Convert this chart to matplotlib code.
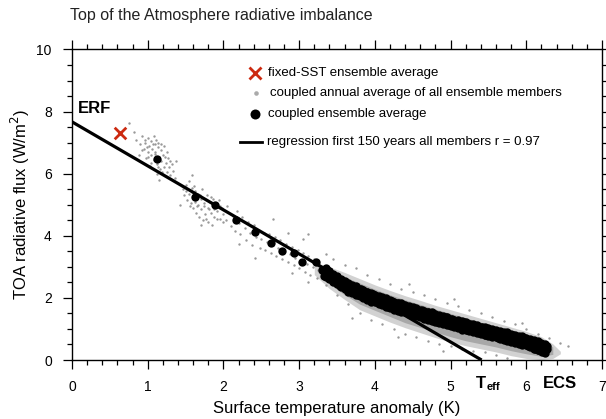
import matplotlib
matplotlib.use("Agg")
import matplotlib.pyplot as plt
from matplotlib.ticker import MultipleLocator

plt.rcParams['font.family'] = ['Liberation Sans', 'DejaVu Sans']

# regression line: intercept (ERF) and zero crossing (T_eff)
erf = 7.67
t_eff = 5.41

# fixed-SST ensemble average
sst_x = [0.634]
sst_y = [7.30]

# coupled ensemble average (black dots)
ens_x = [1.12, 1.63, 1.89, 2.17, 2.42, 2.63, 2.78, 2.93, 3.04, 3.22, 3.30,
         3.36, 3.42, 3.47, 3.52, 3.56, 3.60, 3.64, 3.68, 3.72, 3.76, 3.80,
         3.84, 3.88, 3.92, 3.96, 4.00, 4.04, 4.08, 4.12, 4.16, 4.20, 4.24,
         4.28, 4.32, 4.36, 4.40, 4.44, 4.48, 4.52, 4.56, 4.60, 4.64, 4.68,
         4.72, 4.76, 4.80, 4.84, 4.88, 4.92, 4.96, 5.00, 5.04, 5.08, 5.12,
         5.16, 5.20, 5.24, 5.28, 5.32, 5.36, 5.40, 5.44, 5.48, 5.52, 5.56,
         5.60, 5.64, 5.68, 5.72, 5.76, 5.80, 5.84, 5.88, 5.92, 5.96, 6.00,
         6.03, 6.06, 6.09, 6.12, 6.14, 6.16, 6.18, 6.20, 6.22, 6.24, 6.26,
         6.28, 6.10, 6.15, 6.19, 6.23, 6.05, 6.25,
         3.33, 3.39, 3.45, 3.50, 3.54, 3.58, 3.62, 3.66, 3.70, 3.74, 3.78,
         3.82, 3.86, 3.90, 3.94, 3.98, 4.02, 4.06, 4.10, 4.14, 4.18, 4.22,
         4.26, 4.30, 4.34, 4.38, 4.42, 4.46, 4.50, 4.54, 4.58, 4.62, 4.66,
         4.70, 4.74, 4.78, 4.82, 4.86, 4.90, 4.94, 4.98, 5.02, 5.06, 5.10,
         5.14, 5.18, 5.22, 5.26, 5.30, 5.34, 5.38, 5.42, 5.46, 5.50, 5.54,
         5.58, 5.62, 5.66, 5.70, 5.74, 5.78, 5.82, 5.86, 5.90, 5.94, 5.98,
         6.02, 6.07, 6.11, 6.17, 6.21, 6.27,
         3.35, 3.45, 3.55, 3.65, 3.75, 3.85, 3.95, 4.05, 4.15, 4.25, 4.35,
         4.45, 4.55, 4.65, 4.75, 4.85, 4.95, 5.05, 5.15, 5.25, 5.35, 5.45,
         5.55, 5.65, 5.75, 5.85, 5.95, 6.05, 6.15, 6.25,
         3.35, 3.45, 3.55, 3.65, 3.75, 3.85, 3.95, 4.05, 4.15, 4.25, 4.35,
         4.45, 4.55, 4.65, 4.75, 4.85, 4.95, 5.05, 5.15, 5.25, 5.35, 5.45,
         5.55, 5.65, 5.75, 5.85, 5.95, 6.05, 6.15, 6.25,
         3.40, 3.50, 3.60, 3.70, 3.80, 3.90, 4.00, 4.10, 4.20, 4.30, 4.40,
         4.50, 4.60, 4.70, 4.80, 4.90, 5.00, 5.10, 5.20, 5.30, 5.40, 5.50,
         5.60, 5.70, 5.80, 5.90, 6.00, 6.10, 6.20,
         3.40, 3.50, 3.60, 3.70, 3.80, 3.90, 4.00, 4.10, 4.20, 4.30, 4.40,
         4.50, 4.60, 4.70, 4.80, 4.90, 5.00, 5.10, 5.20, 5.30, 5.40, 5.50,
         5.60, 5.70, 5.80, 5.90, 6.00, 6.10, 6.20]
ens_y = [6.46, 5.25, 4.98, 4.52, 4.12, 3.78, 3.51, 3.43, 3.16, 3.16, 2.91,
         2.78, 2.72, 2.60, 2.54, 2.46, 2.42, 2.35, 2.31, 2.26, 2.23, 2.17,
         2.14, 2.10, 2.06, 2.01, 1.99, 1.94, 1.91, 1.87, 1.85, 1.80, 1.78,
         1.73, 1.72, 1.67, 1.66, 1.61, 1.60, 1.55, 1.53, 1.49, 1.47, 1.43,
         1.42, 1.38, 1.36, 1.32, 1.31, 1.27, 1.25, 1.21, 1.20, 1.16, 1.14,
         1.11, 1.09, 1.05, 1.04, 1.00, 0.99, 0.95, 0.94, 0.91, 0.89, 0.86,
         0.85, 0.81, 0.80, 0.76, 0.75, 0.71, 0.70, 0.66, 0.65, 0.61, 0.60,
         0.56, 0.55, 0.52, 0.50, 0.47, 0.45, 0.43, 0.41, 0.39, 0.37, 0.36,
         0.34, 0.40, 0.33, 0.30, 0.28, 0.48, 0.42,
         2.70, 2.86, 2.55, 2.68, 2.38, 2.55, 2.28, 2.45, 2.18, 2.36, 2.10,
         2.28, 2.02, 2.18, 1.93, 2.12, 1.86, 2.03, 1.79, 1.98, 1.72, 1.90,
         1.66, 1.84, 1.60, 1.78, 1.53, 1.72, 1.48, 1.65, 1.42, 1.60, 1.36,
         1.54, 1.30, 1.48, 1.24, 1.43, 1.19, 1.37, 1.13, 1.31, 1.08, 1.26,
         1.02, 1.21, 0.97, 1.15, 0.92, 1.10, 0.87, 1.06, 0.82, 1.00, 0.77,
         0.95, 0.72, 0.90, 0.67, 0.85, 0.62, 0.80, 0.57, 0.75, 0.52, 0.70,
         0.46, 0.62, 0.35, 0.53, 0.27, 0.45,
         2.95, 2.78, 2.60, 2.47, 2.38, 2.25, 2.16, 2.06, 1.99, 1.88, 1.82,
         1.73, 1.67, 1.58, 1.53, 1.44, 1.39, 1.30, 1.25, 1.17, 1.13, 1.05,
         1.01, 0.93, 0.89, 0.81, 0.76, 0.68, 0.62, 0.50,
         2.66, 2.50, 2.35, 2.20, 2.10, 2.00, 1.88, 1.80, 1.72, 1.62, 1.55,
         1.47, 1.41, 1.33, 1.26, 1.19, 1.12, 1.05, 0.98, 0.92, 0.86, 0.80,
         0.73, 0.68, 0.61, 0.56, 0.48, 0.41, 0.33, 0.24,
         2.86, 2.70, 2.53, 2.42, 2.30, 2.20, 2.10, 2.02, 1.92, 1.85, 1.77,
         1.70, 1.61, 1.56, 1.48, 1.42, 1.33, 1.28, 1.21, 1.15, 1.07, 1.03,
         0.97, 0.91, 0.83, 0.78, 0.72, 0.63, 0.54,
         2.60, 2.44, 2.29, 2.16, 2.06, 1.94, 1.86, 1.76, 1.68, 1.59, 1.53,
         1.44, 1.37, 1.30, 1.24, 1.16, 1.09, 1.02, 0.97, 0.89, 0.83, 0.77,
         0.73, 0.65, 0.59, 0.52, 0.48, 0.37, 0.29]

# dense part of the annual member cloud: outer and inner envelopes
cloud_x = [3.20, 3.40, 3.60, 3.80, 4.00, 4.20, 4.40, 4.60, 4.80, 5.00,
           5.20, 5.40, 5.60, 5.80, 6.00, 6.20, 6.35, 6.45]
cloud_lo = [2.75, 2.30, 1.95, 1.62, 1.42, 1.22, 1.04, 0.88, 0.72, 0.58,
            0.46, 0.36, 0.26, 0.14, 0.05, 0.01, 0.05, 0.20]
cloud_hi = [3.15, 3.00, 2.82, 2.62, 2.42, 2.24, 2.07, 1.92, 1.76, 1.62,
            1.48, 1.34, 1.20, 1.06, 0.92, 0.75, 0.52, 0.28]
core_x = [3.25, 3.40, 3.60, 3.80, 4.00, 4.20, 4.40, 4.60, 4.80, 5.00,
          5.20, 5.40, 5.60, 5.80, 6.00, 6.20, 6.35]
core_lo = [2.82, 2.45, 2.10, 1.80, 1.60, 1.40, 1.20, 1.05, 0.90, 0.75,
           0.62, 0.52, 0.42, 0.30, 0.20, 0.12, 0.18]
core_hi = [3.02, 2.88, 2.68, 2.48, 2.28, 2.10, 1.94, 1.79, 1.64, 1.50,
           1.36, 1.22, 1.08, 0.94, 0.80, 0.64, 0.42]

# scattered annual values of the members (gray dots)
mem_x = [0.85, 0.90, 0.93, 0.95, 0.97, 1.00, 1.00, 1.02, 1.04, 1.05, 1.06,
         1.08, 1.08, 1.10, 1.10, 1.12, 1.13, 1.14, 1.15, 1.16, 1.17, 1.18,
         1.20, 1.21, 1.22, 1.24, 1.25, 1.27, 1.28, 1.30, 1.32, 1.34, 1.36,
         0.98, 1.03, 0.88, 1.15, 0.75, 0.82, 1.38,
         0.92, 0.96, 1.01, 1.07, 1.09, 1.11, 1.14, 1.17, 1.19, 1.23, 1.26,
         1.29, 1.12, 1.05, 0.99,
         1.45, 1.48, 1.50, 1.52, 1.54, 1.55, 1.57, 1.58, 1.60, 1.60, 1.62,
         1.63, 1.64, 1.66, 1.67, 1.68, 1.70, 1.71, 1.72, 1.73, 1.75, 1.76,
         1.78, 1.79, 1.80, 1.82, 1.84, 1.86, 1.88, 1.90, 1.92, 1.94, 1.96,
         1.98, 2.00, 1.58, 1.42, 1.70, 2.03, 1.85,
         1.47, 1.51, 1.56, 1.59, 1.61, 1.65, 1.69, 1.74, 1.77, 1.81, 1.83,
         1.87, 1.91, 1.95, 1.99,
         2.05, 2.10, 2.12, 2.15, 2.18, 2.20, 2.22, 2.25, 2.28, 2.30, 2.32,
         2.35, 2.38, 2.40, 2.43, 2.45, 2.48, 2.50, 2.53, 2.55, 2.58, 2.60,
         2.63, 2.65, 2.68, 2.70, 2.72, 2.75, 2.78, 2.80, 2.83, 2.85, 2.88,
         2.90, 2.93, 2.95, 2.98, 3.00, 3.02, 3.05, 3.08, 3.10, 3.12, 3.15,
         3.18, 3.20, 3.23, 3.25, 2.65, 3.05, 2.42, 2.90, 2.20, 3.12, 3.12,
         2.85,
         3.45, 3.60, 3.75, 3.90, 4.05, 4.20, 4.35, 4.50, 4.65, 4.80, 4.95,
         5.10, 5.25, 5.40, 5.55, 5.70, 5.85, 6.00, 6.15, 6.30, 6.45, 6.55,
         3.35, 4.45, 5.05, 5.95,
         3.35, 3.50, 3.65, 3.80, 3.95, 4.10, 4.25, 4.40, 4.55, 4.70, 4.85,
         5.00, 5.15, 5.30, 5.45, 5.60, 5.75, 3.70, 4.30, 4.90]
mem_y = [7.10, 6.95, 7.20, 6.80, 7.00, 6.70, 7.15, 6.90, 6.60, 7.05, 6.80,
         6.45, 7.20, 6.95, 6.65, 6.30, 6.85, 7.00, 6.55, 6.15, 6.75, 6.40,
         6.60, 6.20, 6.90, 6.35, 6.05, 6.50, 6.20, 5.95, 6.30, 6.10, 5.85,
         6.50, 6.25, 6.60, 5.80, 7.62, 7.35, 6.40,
         6.75, 7.10, 6.55, 6.95, 6.70, 7.10, 6.20, 6.95, 6.05, 6.55, 6.70,
         6.40, 6.00, 6.35, 6.85,
         5.60, 5.30, 5.45, 5.15, 5.75, 5.35, 5.05, 5.55, 5.25, 4.90, 5.45,
         5.10, 4.75, 5.35, 5.00, 4.60, 5.20, 4.85, 5.50, 4.50, 5.05, 4.70,
         5.30, 4.90, 4.45, 5.10, 4.75, 5.20, 4.60, 5.00, 4.80, 5.15, 4.55,
         4.90, 4.70, 5.95, 5.00, 4.35, 4.50, 4.35,
         5.50, 5.65, 4.95, 5.40, 5.60, 4.95, 5.30, 4.95, 4.55, 4.85, 5.25,
         4.85, 4.55, 4.95, 4.45,
         4.95, 4.30, 4.65, 4.15, 4.80, 4.40, 4.05, 4.60, 4.25, 3.85, 4.45,
         4.10, 3.70, 4.35, 3.95, 4.20, 3.60, 3.90, 4.10, 3.55, 3.80, 4.05,
         3.45, 3.70, 3.95, 3.35, 3.60, 3.85, 3.25, 3.55, 3.75, 3.15, 3.40,
         3.65, 3.05, 3.30, 3.55, 2.95, 3.20, 3.45, 2.85, 3.10, 3.35, 2.75,
         3.00, 3.25, 2.65, 2.90, 4.55, 3.90, 3.30, 2.80, 3.75, 2.50, 4.05,
         4.09,
         3.25, 3.05, 2.95, 2.75, 2.60, 2.45, 2.30, 2.20, 2.10, 1.95, 1.85,
         1.75, 1.60, 1.50, 1.40, 1.25, 1.15, 1.00, 0.85, 0.70, 0.55, 0.45,
         3.40, 2.45, 1.95, 1.20,
         2.40, 2.10, 1.80, 1.50, 1.30, 1.15, 1.00, 0.85, 0.75, 0.60, 0.50,
         0.45, 0.35, 0.30, 0.25, 0.15, 0.08, 1.35, 0.75, 0.30]

fig = plt.figure(figsize=(6.06, 4.19), dpi=100)
ax = fig.add_axes([0.1188, 0.1408, 0.8746, 0.7411])

ax.fill_between(cloud_x, cloud_lo, cloud_hi, color='#d2d2d2', lw=0, zorder=1)
ax.fill_between(core_x, core_lo, core_hi, color='#a8a8a8', lw=0, zorder=1)
ax.scatter(mem_x, mem_y, s=3, color='#999999', linewidths=0, zorder=2)
ax.plot([0, t_eff], [erf, 0], color='black', lw=2.3, zorder=3,
        solid_capstyle='butt')
ax.scatter(ens_x, ens_y, s=36, color='black', linewidths=0, zorder=4)
ax.scatter(sst_x, sst_y, marker='x', s=70, color='#cc2a10', linewidths=2,
           zorder=5)

ax.set_xlim(0, 7)
ax.set_ylim(0, 10)
ax.xaxis.set_major_locator(MultipleLocator(1))
ax.xaxis.set_minor_locator(MultipleLocator(0.2))
ax.yaxis.set_major_locator(MultipleLocator(2))
ax.yaxis.set_minor_locator(MultipleLocator(0.5))
ax.tick_params(which='both', direction='out', top=True, right=True,
               width=0.9, labelsize=10, pad=8)
ax.tick_params(which='major', length=6.5)
ax.tick_params(which='minor', length=3.6)
for sp in ax.spines.values():
    sp.set_linewidth(1.0)

ax.set_xlabel('Surface temperature anomaly (K)', fontsize=12, labelpad=5)
ax.set_ylabel('TOA radiative flux (W/m$^2$)', fontsize=12, labelpad=3)
fig.text(0.116, 0.963, 'Top of the Atmosphere radiative imbalance',
         fontsize=11.5, color='#222222', va='center')

# annotations
ax.text(0.08, 8.1, 'ERF', fontsize=12, fontweight='bold', va='center')
ax.text(0.762, -0.077, 'T', transform=ax.transAxes, fontsize=12,
        fontweight='bold', va='center')
ax.text(0.783, -0.087, 'eff', transform=ax.transAxes, fontsize=8,
        fontweight='bold', va='center')
ax.text(0.889, -0.077, 'ECS', transform=ax.transAxes, fontsize=12,
        fontweight='bold', va='center')

# legend drawn by hand
tr = ax.transAxes
ax.plot([0.345], [0.924], marker='x', ms=8, mew=2, color='#cc2a10',
        transform=tr, clip_on=False)
ax.plot([0.347], [0.860], marker='o', ms=3.3, mew=0, color='#aaaaaa',
        transform=tr, clip_on=False)
ax.plot([0.345], [0.792], marker='o', ms=7.2, mew=0, color='black',
        transform=tr, clip_on=False)
ax.plot([0.317, 0.358], [0.702, 0.702], color='black', lw=2, transform=tr,
        clip_on=False)
labels = ['fixed-SST ensemble average',
          'coupled annual average of all ensemble members',
          'coupled ensemble average',
          'regression first 150 years all members r = 0.97']
for lab, yy, xx in zip(labels, [0.924, 0.860, 0.792, 0.702],
                       [0.370, 0.374, 0.370, 0.368]):
    ax.text(xx, yy, lab, transform=tr, fontsize=9.5, va='center')

fig.savefig('out.png', dpi=100)
